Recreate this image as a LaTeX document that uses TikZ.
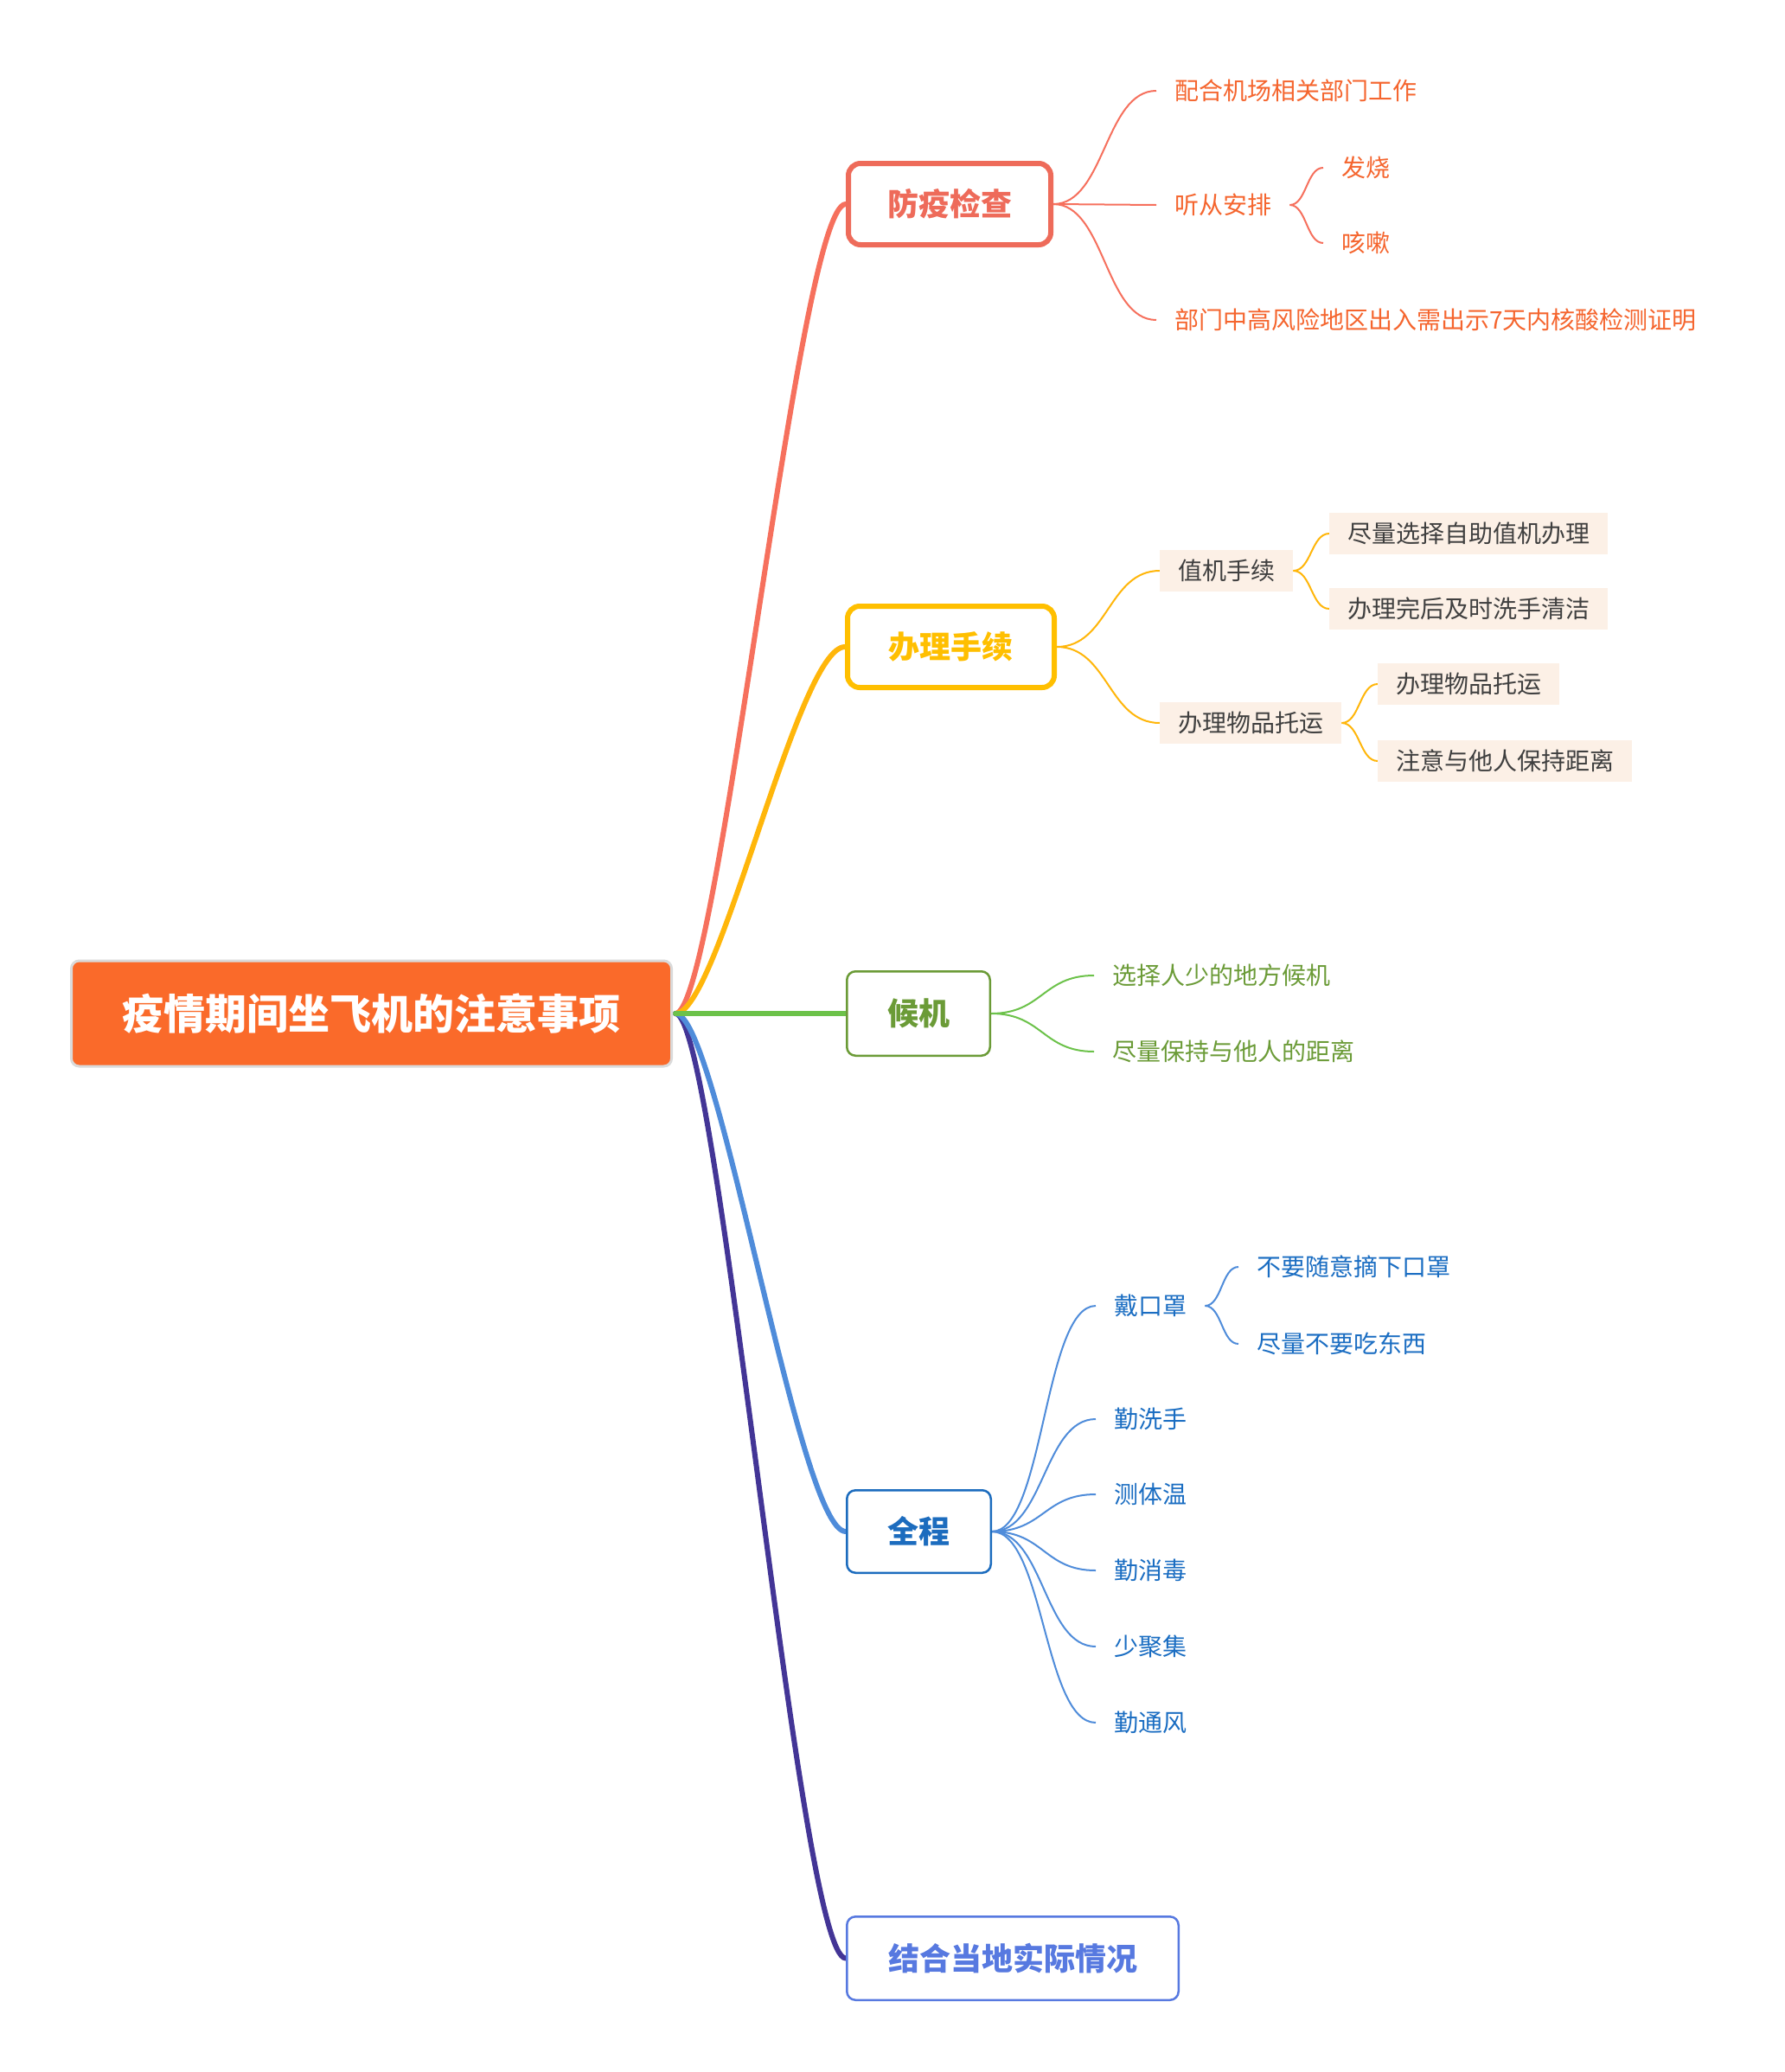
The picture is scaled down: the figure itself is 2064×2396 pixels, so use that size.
\documentclass[tikz,border=0pt]{standalone}
\usepackage{fontspec}
\setmainfont{Noto Sans CJK SC}
\usetikzlibrary{calc,backgrounds}
\definecolor{rootfill}{HTML}{FA6A2A}
\definecolor{rootline}{HTML}{DADADA}
\definecolor{redline}{HTML}{F6705D}
\definecolor{redbox}{HTML}{EE6B5A}
\definecolor{redtext}{HTML}{F5652E}
\definecolor{yelline}{HTML}{FFB60A}
\definecolor{yelbox}{HTML}{FFBF00}
\definecolor{beige}{HTML}{FCF0E6}
\definecolor{greytext}{HTML}{3F3F3F}
\definecolor{grnline}{HTML}{6CC24A}
\definecolor{grnbox}{HTML}{6B9B37}
\definecolor{bluline}{HTML}{4F8CDA}
\definecolor{blubox}{HTML}{1C6CBE}
\definecolor{blutext}{HTML}{1A6DC2}
\definecolor{indline}{HTML}{433596}
\definecolor{perbox}{HTML}{5779E0}
\tikzset{
  rootst/.style={fill=rootfill, draw=rootline, line width=3pt, rounded corners=9pt,
    minimum width=694pt, minimum height=122pt, text=white, inner sep=0pt,
    font=\fontsize{48}{52}\selectfont\bfseries},
  lvone/.style={draw, fill=white, rounded corners=14pt, inner sep=0pt,
    font=\fontsize{36}{40}\selectfont\bfseries},
  leaf/.style={anchor=west, inner ysep=0pt, inner xsep=21pt,
    font=\fontsize{28}{32}\selectfont},
  ybox/.style={anchor=west, fill=beige, text=greytext, inner xsep=21pt, inner ysep=0pt,
    minimum height=48pt, font=\fontsize{28}{32}\selectfont},
  mainbr/.style={line width=6pt, line cap=round},
  subbr/.style={line width=2pt},
  hc/.style={to path={let \p1=(\tikztostart), \p2=(\tikztotarget) in
    .. controls ({(\x1+\x2)/2},\y1) and ({(\x1+\x2)/2},\y2) .. (\tikztotarget)}},
}
\begin{document}
\begin{tikzpicture}[x=1pt,y=-1pt]
\useasboundingbox (0,0) rectangle (2064,2396);

% root
\node[rootst] (root) at (429.5,1172) {疫情期间坐飞机的注意事项};

% level one
\node[lvone, draw=redbox, text=redbox, line width=6pt, minimum width=234pt, minimum height=94pt] (b1) at (1098,236) {防疫检查};
\node[lvone, draw=yelbox, text=yelbox, line width=6pt, minimum width=239pt, minimum height=94pt] (b2) at (1099.5,748) {办理手续};
\node[lvone, draw=grnbox, text=grnbox, line width=2.5pt, rounded corners=10pt, minimum width=165.5pt, minimum height=97.5pt] (b3) at (1062,1172) {候机};
\node[lvone, draw=blubox, text=blubox, line width=2.5pt, rounded corners=10pt, minimum width=166.5pt, minimum height=95.5pt] (b4) at (1062.5,1771) {全程};
\node[lvone, draw=perbox, text=perbox, line width=2.5pt, rounded corners=10pt, minimum width=383.5pt, minimum height=96.5pt] (b5) at (1171,2264.5) {结合当地实际情况};

% red branch
\node[leaf, text=redtext] (c11) at (1337,105) {配合机场相关部门工作};
\node[leaf, text=redtext] (c12) at (1337,237) {听从安排};
\node[leaf, text=redtext] (c121) at (1530,194) {发烧};
\node[leaf, text=redtext] (c122) at (1530,281) {咳嗽};
\node[leaf, text=redtext] (c13) at (1337,370) {部门中高风险地区出入需出示7天内核酸检测证明};

% yellow branch
\node[ybox] (c21) at (1341,660) {值机手续};
\node[ybox] (c211) at (1537,617) {尽量选择自助值机办理};
\node[ybox] (c212) at (1537,704) {办理完后及时洗手清洁};
\node[ybox] (c22) at (1341,836) {办理物品托运};
\node[ybox] (c221) at (1593,791) {办理物品托运};
\node[ybox] (c222) at (1593,880) {注意与他人保持距离};

% green branch
\node[leaf, text=grnbox] (c31) at (1265,1128) {选择人少的地方候机};
\node[leaf, text=grnbox] (c32) at (1265,1216) {尽量保持与他人的距离};

% blue branch
\node[leaf, text=blutext] (c41) at (1267,1510) {戴口罩};
\node[leaf, text=blutext] (c411) at (1432,1465) {不要随意摘下口罩};
\node[leaf, text=blutext] (c412) at (1432,1554) {尽量不要吃东西};
\node[leaf, text=blutext] (c42) at (1267,1641) {勤洗手};
\node[leaf, text=blutext] (c43) at (1267,1728) {测体温};
\node[leaf, text=blutext] (c44) at (1267,1816) {勤消毒};
\node[leaf, text=blutext] (c45) at (1267,1904) {少聚集};
\node[leaf, text=blutext] (c46) at (1267,1992) {勤通风};

\begin{scope}[on background layer]
  \fill[white] (0,0) rectangle (2064,2396);
  \coordinate (rs) at ([xshift=3pt]root.east);
  \draw[mainbr, redline] (rs) .. controls +(50,0) and +(-55,0) .. (b1.west);
  \draw[mainbr, yelline] (rs) .. controls +(50,0) and +(-55,0) .. (b2.west);
  \draw[mainbr, indline] (rs) .. controls +(50,0) and +(-55,0) .. (b5.west);
  \draw[mainbr, bluline] (rs) .. controls +(50,0) and +(-55,0) .. (b4.west);
  \draw[mainbr, grnline] (rs) -- (b3.west);

  \draw[subbr, redline] (b1.east) to[hc] (c11.west);
  \draw[subbr, redline] (b1.east) to[hc] (c12.west);
  \draw[subbr, redline] (b1.east) to[hc] (c13.west);
  \draw[subbr, redline] (c12.east) to[hc] (c121.west);
  \draw[subbr, redline] (c12.east) to[hc] (c122.west);

  \draw[subbr, yelline] (b2.east) to[hc] (c21.west);
  \draw[subbr, yelline] (b2.east) to[hc] (c22.west);
  \draw[subbr, yelline] (c21.east) to[hc] (c211.west);
  \draw[subbr, yelline] (c21.east) to[hc] (c212.west);
  \draw[subbr, yelline] (c22.east) to[hc] (c221.west);
  \draw[subbr, yelline] (c22.east) to[hc] (c222.west);

  \draw[subbr, grnline] (b3.east) to[hc] (c31.west);
  \draw[subbr, grnline] (b3.east) to[hc] (c32.west);

  \draw[subbr, bluline] (b4.east) to[hc] (c41.west);
  \draw[subbr, bluline] (b4.east) to[hc] (c42.west);
  \draw[subbr, bluline] (b4.east) to[hc] (c43.west);
  \draw[subbr, bluline] (b4.east) to[hc] (c44.west);
  \draw[subbr, bluline] (b4.east) to[hc] (c45.west);
  \draw[subbr, bluline] (b4.east) to[hc] (c46.west);
  \draw[subbr, bluline] (c41.east) to[hc] (c411.west);
  \draw[subbr, bluline] (c41.east) to[hc] (c412.west);
\end{scope}
\end{tikzpicture}
\end{document}
